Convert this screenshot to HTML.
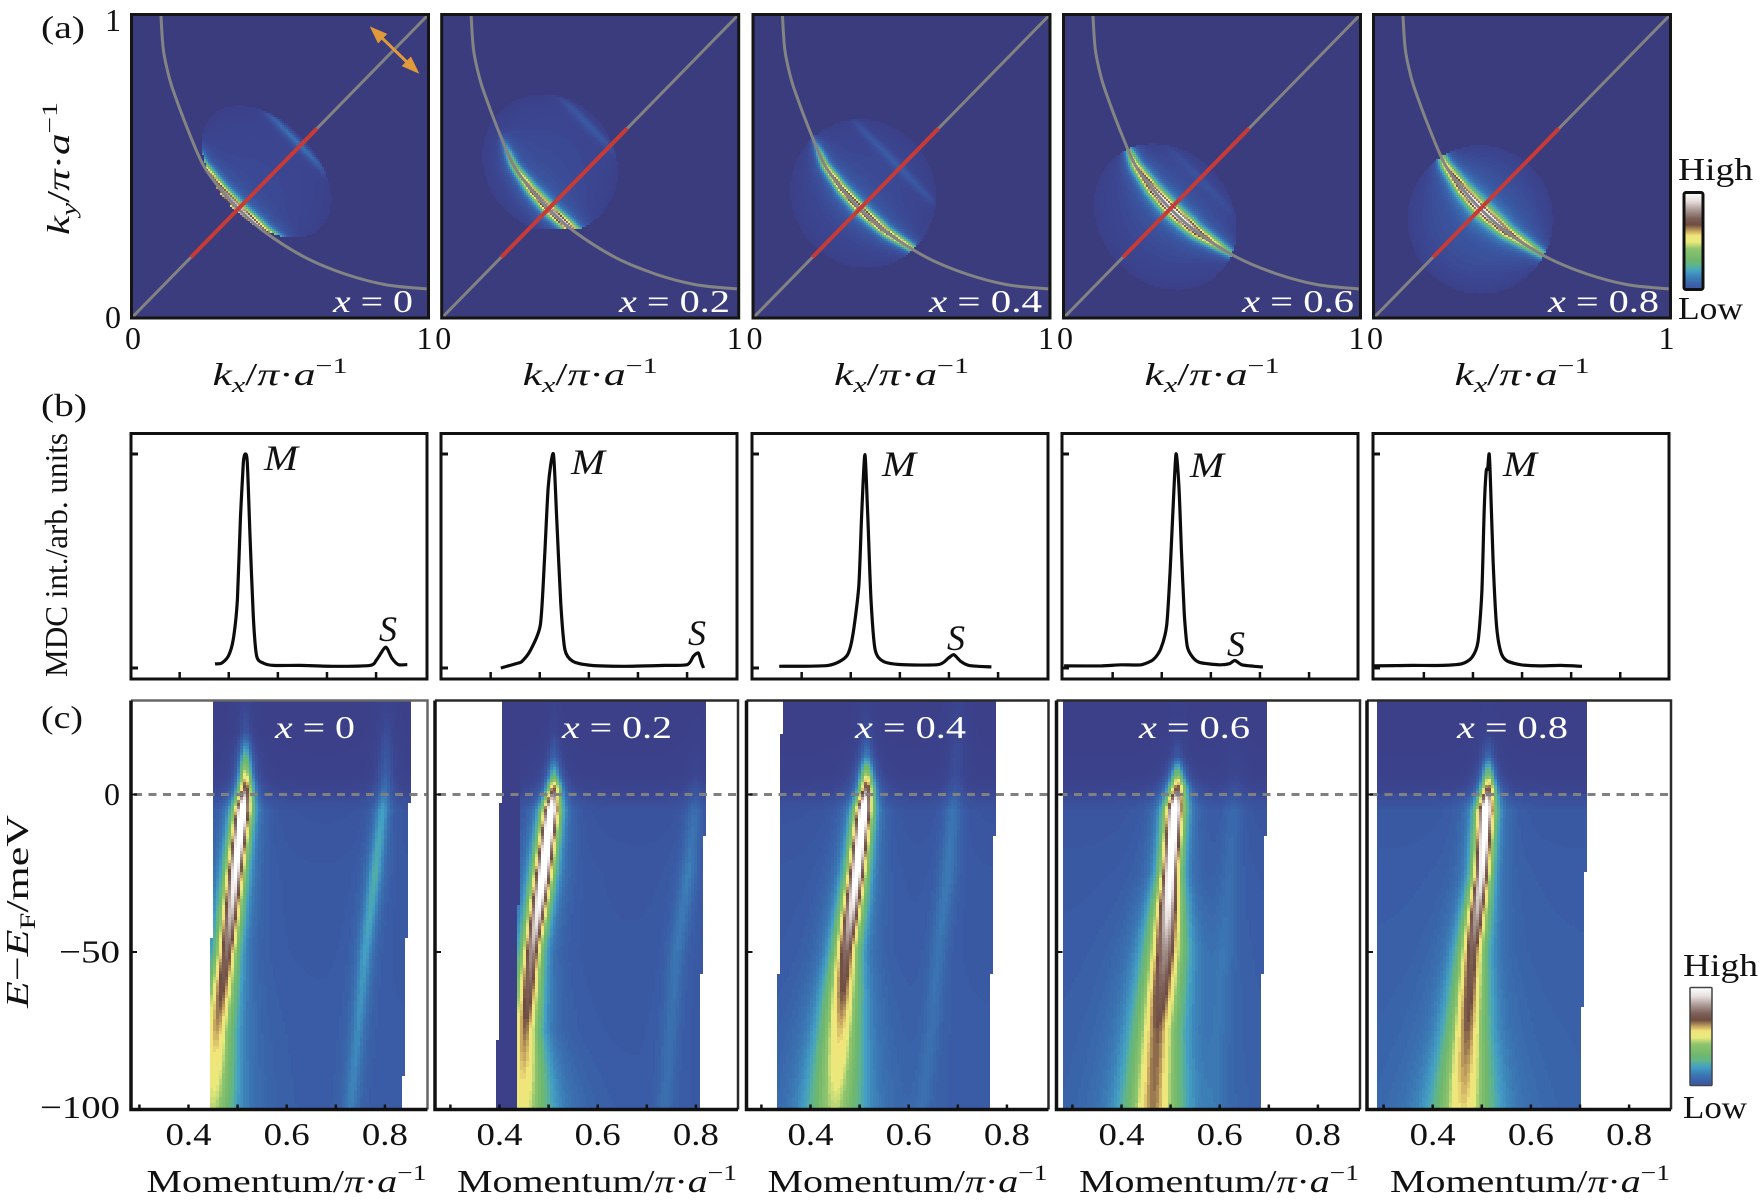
<!DOCTYPE html>
<html lang="en">
<head>
<meta charset="utf-8">
<title>ARPES Fermi surface and band dispersion panels</title>
<style>
html,body{margin:0;padding:0;background:#fff;}
svg{display:block;}
text{font-family:"Liberation Serif",serif;fill:#111;font-size:32px;}
</style>
</head>
<body>
<svg id="fig" xmlns="http://www.w3.org/2000/svg" width="1762" height="1200" viewBox="0 0 1762 1200">
<rect x="0" y="0" width="1762" height="1200" fill="#fff"/>
<g id="rowA"></g>
<g id="rowB"></g>
<g id="rowC"></g>
<g id="labels">
<text x="41" y="38" textLength="44" lengthAdjust="spacingAndGlyphs">(a)</text>
<text x="41" y="416" textLength="46" lengthAdjust="spacingAndGlyphs">(b)</text>
<text x="41" y="728" textLength="42" lengthAdjust="spacingAndGlyphs">(c)</text>
<text transform="translate(69,235) rotate(-90)" textLength="133" lengthAdjust="spacingAndGlyphs"><tspan font-style="italic">k</tspan><tspan font-style="italic" font-size="22" dy="7">y</tspan><tspan dy="-7">/</tspan><tspan font-style="italic">π</tspan><tspan>·</tspan><tspan font-style="italic">a</tspan><tspan font-size="22" dy="-12">−1</tspan></text>
<text transform="translate(67,677) rotate(-90)" textLength="244" lengthAdjust="spacingAndGlyphs">MDC int./arb. units</text>
<text transform="translate(28,1008) rotate(-90)" textLength="193" lengthAdjust="spacingAndGlyphs"><tspan font-style="italic">E</tspan><tspan>−</tspan><tspan font-style="italic">E</tspan><tspan font-size="22" dy="7">F</tspan><tspan dy="-7">/meV</tspan></text>
<text x="1678" y="180" textLength="75" lengthAdjust="spacingAndGlyphs">High</text>
<text x="1678" y="319" textLength="65" lengthAdjust="spacingAndGlyphs">Low</text>
<text x="1683" y="976" textLength="75" lengthAdjust="spacingAndGlyphs">High</text>
<text x="1683" y="1118" textLength="64" lengthAdjust="spacingAndGlyphs">Low</text>
</g>
</svg>
<script>
/* ---------- shared data ---------- */
const dopingLabels = ["0","0.2","0.4","0.6","0.8"];

/* (a) Fermi-surface maps */
const arcKx = [.099,.107,.125,.143,.19,.242,.30,.365,.449,.584,.719,.854,.994];
const arcKy = [.999,.885,.80,.742,.62,.503,.425,.355,.283,.2,.145,.11,.096];
const redStart = .2;
const redEnd = .625;
const aWinKx = [.455,.365,.371,.343,.36];
const aWinKy = [.482,.509,.41,.333,.324];
const aWinMajor = [.26,.24,.25,.26,.245];
const aWinMinor = [.165,.215,.24,.22,.245];
const aClipKy = [0,.292,0,0,0];
const aBgLevel = [.05,.06,.055,.06,.09];
const aT = [-.40,-.30,-.22,-.15,-.08,0,.08,.15,.22,.30,.40];
const aAmp = [
 [0,0,.38,.62,.8,.95,.88,.68,.38,0,0],
 [0,0,.3,.46,.68,.88,.88,.8,.38,0,0],
 [0,0,.38,.56,.72,.82,.74,.6,.46,0,0],
 [0,0,.42,.64,.84,.98,.9,.64,.4,.2,0],
 [0,0,.42,.6,.8,.95,.8,.56,.4,.3,0]
];
const aBandWidth = [.014,.0135,.0125,.015,.015];
const aGlowLevel = [.09,.09,.09,.11,.13];
const aShadowU = [.805,.80,.70,.65,.6];
const aShadowAmp = [.22,.12,.1,.06,0];
const aShadowW = [.012,.014,.012,.016,.02];

/* (b) momentum distribution curves */
const mdcK = [
 [.454,.4675,.481,.491,.4995,.506,.5117,.5157,.5198,.525,.532,.5388,.5524,.5728,.627,.695,.7697,.7833,.8016,.8138,.8274,.8457],
 [.4026,.4375,.4458,.4624,.483,.4915,.4993,.5098,.5165,.5248,.5331,.5497,.587,.6536,.7368,.7825,.795,.805,.8116,.8157],
 [.3362,.4359,.4734,.4858,.4983,.5041,.5108,.5166,.5232,.5316,.5482,.5856,.6604,.6812,.692,.7061,.7227,.7685],
 [.283,.36,.40,.44,.465,.48,.492,.499,.505,.511,.517,.522,.528,.534,.545,.56,.6,.62,.631,.645,.67,.688],
 [.28,.36,.42,.46,.48,.492,.5,.505,.509,.512,.515,.518,.523,.53,.538,.55,.58,.62,.66,.704]
];
const mdcI = [
 [.019,.023,.055,.132,.319,.709,.958,1,.958,.631,.241,.055,.023,.012,.012,.008,.012,.039,.097,.047,.016,.016],
 [0,.023,.031,.08,.2,.5,.85,1,.7,.3,.086,.031,.012,.008,.012,.016,.055,.07,.023,0],
 [.008,.012,.055,.148,.382,.709,.997,.709,.319,.086,.031,.016,.016,.047,.062,.031,.012,.005],
 [.01,.01,.015,.015,.04,.09,.2,.45,.75,1,.85,.55,.25,.1,.05,.025,.015,.02,.035,.015,.008,.005],
 [.01,.012,.012,.02,.05,.12,.35,.75,.92,.93,1,.85,.5,.2,.08,.035,.015,.01,.012,.008]
];
const mdcTicksK = [.382,.482,.582,.682,.782];
const mPeakLabelX = [281,588,899,1207,1520];
const mPeakLabelY = [470,474,476,477,476];
const sPeakLabelX = [388,697,956,1236];
const sPeakLabelY = [641,645,650,656];

/* (c) dispersion maps: band parameters read per energy row */
const cEnergies = [30,20,12,6,2,-5,-25,-50,-75,-100];
const cBg = [.01,.01,.015,.02,.04,.10,.115,.12,.125,.125];
const cBgOffset = [0,-.005,0,.005,.015];
const cMainK = [
 [.516,.516,.516,.516,.516,.510,.495,.478,.457,.45],
 [.511,.511,.511,.511,.511,.505,.489,.466,.452,.445],
 [.514,.514,.514,.514,.514,.508,.494,.472,.46,.449],
 [.514,.514,.514,.514,.514,.508,.499,.489,.472,.464],
 [.513,.513,.513,.513,.513,.508,.5,.48,.47,.462]
];
const cMainAmp = [
 [.03,.09,.33,.55,.72,1.05,.9,.66,.52,.38],
 [.01,.04,.13,.32,.68,1.05,1.0,.72,.56,.44],
 [.02,.06,.2,.5,.75,1.05,.95,.66,.5,.38],
 [.01,.02,.1,.42,.7,1.05,.95,.7,.56,.54],
 [.01,.02,.15,.42,.7,1.05,.85,.62,.55,.47]
];
const cMainWidth = [
 [.012,.012,.012,.012,.013,.014,.016,.0195,.03,.04],
 [.01,.01,.012,.012,.012,.014,.016,.018,.026,.05],
 [.012,.012,.013,.013,.013,.014,.016,.022,.035,.05],
 [.012,.012,.012,.013,.015,.015,.016,.03,.038,.047],
 [.012,.012,.012,.012,.013,.014,.015,.023,.033,.05]
];
const cShadowK = [
 [.803,.803,.802,.801,.80,.795,.78,.76,.745,.73],
 [.80,.80,.80,.80,.80,.797,.785,.761,.748,.737],
 [.70,.70,.697,.695,.694,.69,.68,.66,.647,.627],
 [.631,.631,.631,.631,.631,.628,.62,.607,.598,.59],
 [.6,.6,.6,.6,.6,.6,.6,.6,.6,.6]
];
const cShadowAmp = [
 [.02,.06,.1,.12,.14,.17,.19,.15,.11,.09],
 [0,.01,.02,.03,.05,.08,.1,.08,.06,.05],
 [.03,.05,.06,.06,.07,.09,.09,.07,.05,.04],
 [0,.01,.02,.03,.04,.05,.05,.05,.04,.03],
 [0,0,0,0,0,0,0,0,0,0]
];
const cShadowW = [.014,.016,.016,.02,.02];
const cWinLeft = [[.452,.442],[.404,.394],[.341,.331],[.283,.283],[.284,.284]];
const cWinRight = [[.855,.835],[.822,.805],[.78,.761],[.698,.68],[.717,.70]];
const cMask = [[.452,.442],[.445,.432],[0,0],[0,0],[0,0]];
const cXTickValues = [.3,.4,.5,.6,.7,.8];
const cXTickLabels = ["0.4","0.6","0.8"];
const cXTickLabelValues = [.4,.6,.8];
const cYTicks = [0,-50,-100];
const cYTickLabels = ["0","−50","−100"];
const cYTickLengths = [16,61,80];

/* colour map */
const cmapV = [0,.05,.13,.2,.27,.33,.38,.48,.54,.6,.64,.7,.76,.84,.92,1];
const cmapR = [60,59,58,59,67,98,111,143,233,240,200,111,125,173,230,255];
const cmapG = [63,69,92,120,160,181,183,196,233,228,168,77,96,154,223,255];
const cmapB = [135,144,166,180,196,138,108,110,124,122,96,66,88,150,221,255];

/* label placement */
const aDopingX = [333,619,929,1242,1548];
const aDopingLen = [80,111,113,112,111];
const cDopingX = [275,562,855,1139,1457];
const cDopingLen = [80,110,111,111,111];

/* ---------- geometry and axis functions ---------- */
const aX0 = [131.5,441.7,753,1063.5,1373.5];
const aSize = 297;
const aTop = 14.5, aBottom = 318;
const bX0 = [131,441,752,1062,1373];
const bX1 = [427,737,1048,1358,1669];
const bTop = 433.5, bBottom = 679;
const cX0 = [131,435,746.5,1056.5,1367];
const cX1 = [427.5,738,1048.5,1360,1671];
const cTop = 700.5, cBottom = 1109.5;
const cX04 = [188.5,499.5,810.5,1121.5,1432.7];
const xA = (p,k) => aX0[p] + k*aSize;
const yA = k => aBottom - k*(aBottom-aTop);
const kxOfA = (p,x) => (x-aX0[p])/aSize;
const kyOfA = y => (aBottom-y)/(aBottom-aTop);
const xC = (p,k) => cX04[p] + (k-.4)*491;
const kOfC = (p,x) => .4 + (x-cX04[p])/491;
const yC = E => 794.5 - E*3.15;
const eOfC = y => (794.5-y)/3.15;
const yB = v => 668 - v*214;

/* ---------- helpers ---------- */
const NS = "http://www.w3.org/2000/svg";
function mk(tag, attrs, parent){
  const el = document.createElementNS(NS, tag);
  for(const k in attrs) el.setAttribute(k, attrs[k]);
  parent.appendChild(el);
  return el;
}
function interp(xs, ys, x){
  if(xs[0] > xs[xs.length-1]){
    if(x >= xs[0]) return ys[0];
    if(x <= xs[xs.length-1]) return ys[ys.length-1];
    for(let i=1;i<xs.length;i++) if(x >= xs[i]){
      const t=(x-xs[i-1])/(xs[i]-xs[i-1]);
      return ys[i-1]+t*(ys[i]-ys[i-1]);
    }
  } else {
    if(x <= xs[0]) return ys[0];
    if(x >= xs[xs.length-1]) return ys[ys.length-1];
    for(let i=1;i<xs.length;i++) if(x <= xs[i]){
      const t=(x-xs[i-1])/(xs[i]-xs[i-1]);
      return ys[i-1]+t*(ys[i]-ys[i-1]);
    }
  }
  return ys[ys.length-1];
}
function profile(d, w){
  const r = d/(1.3*w);
  return Math.pow(1+r*r, -1.5);
}
function colour(v){
  v = Math.max(0, Math.min(1, Math.round(v*100)/100));
  return "rgb("+Math.round(interp(cmapV,cmapR,v))+","+Math.round(interp(cmapV,cmapG,v))+","+Math.round(interp(cmapV,cmapB,v))+")";
}
function distToArc(kx, ky){
  let best = 9;
  for(let i=1;i<arcKx.length;i++){
    const ax=arcKx[i-1], ay=arcKy[i-1], dx=arcKx[i]-ax, dy=arcKy[i]-ay;
    let t=((kx-ax)*dx+(ky-ay)*dy)/(dx*dx+dy*dy);
    t=Math.max(0,Math.min(1,t));
    const ex=kx-ax-t*dx, ey=ky-ay-t*dy, d=Math.sqrt(ex*ex+ey*ey);
    if(d<best) best=d;
  }
  return best;
}
function smoothPath(xs, ys, f){
  let d = "M"+xs[0].toFixed(1)+" "+ys[0].toFixed(1);
  for(let i=0;i<xs.length-1;i++){
    const x0=xs[Math.max(0,i-1)], y0=ys[Math.max(0,i-1)];
    const x3=xs[Math.min(xs.length-1,i+2)], y3=ys[Math.min(xs.length-1,i+2)];
    const c1x=xs[i]+(xs[i+1]-x0)*f, c1y=ys[i]+(ys[i+1]-y0)*f;
    const c2x=xs[i+1]-(x3-xs[i])*f, c2y=ys[i+1]-(y3-ys[i])*f;
    d+="C"+c1x.toFixed(1)+" "+c1y.toFixed(1)+" "+c2x.toFixed(1)+" "+c2y.toFixed(1)+" "+xs[i+1].toFixed(1)+" "+ys[i+1].toFixed(1);
  }
  return d;
}
const svg = document.getElementById("fig");
const rowA = document.getElementById("rowA");
const rowB = document.getElementById("rowB");
const rowC = document.getElementById("rowC");

/* ---------- row (a) ---------- */
dopingLabels.forEach((lab,p) => {
  const g = mk("g",{},rowA);
  
  

  const bg = mk("rect",{x:aX0[p],y:aTop,width:aSize,height:aBottom-aTop,fill:"#3b3c7d"},g);
  
  

  const heat = mk("g",{"shape-rendering":"crispEdges"},g);
  
  
  const step = 2;
  for(let y=Math.floor(aTop)+1; y<aBottom-1; y+=step){
    let runStart=null, runCol=null;
    const flush = x => {
      if(runStart===null) return;
      const c = mk("rect",{x:runStart,y:y,width:x-runStart,height:step,fill:runCol},heat);
      
      
      runStart=null; runCol=null;
    };
    for(let x=Math.floor(aX0[p])+1; x<aX0[p]+aSize-1; x+=step){
      const kx=kxOfA(p,x+1), ky=kyOfA(y+1);
      const t=(kx-ky)/Math.SQRT2, u=(kx+ky)/Math.SQRT2;
      const cu=(aWinKx[p]+aWinKy[p])/Math.SQRT2, ct=(aWinKx[p]-aWinKy[p])/Math.SQRT2;
      const r2=Math.pow((t-ct)/aWinMajor[p],2)+Math.pow((u-cu)/aWinMinor[p],2);
      if(r2>1 || ky<aClipKy[p]){ flush(x); continue; }
      const fade=Math.pow(1-r2,.6);
      const d=distToArc(kx,ky);
      const amp=interp(aT,aAmp[p],t);
      let v=aBgLevel[p]*fade + amp*profile(d,aBandWidth[p]) + aGlowLevel[p]*amp*profile(d,.05);
      v+=aShadowAmp[p]*Math.pow(fade,.4)*profile(u-aShadowU[p],aShadowW[p]);
      const col=colour(v);
      if(col!==runCol){ flush(x); runStart=x; runCol=col; }
    }
    flush(Math.floor(aX0[p])+1+Math.ceil((aSize-2)/step)*step);
  }

  const diag = mk("line",{x1:xA(p,0),y1:yA(0),x2:xA(p,1),y2:yA(1),stroke:"#828282","stroke-width":3},g);
  
  

  const arc = mk("path",{d:smoothPath(arcKx.map(k=>xA(p,k)),arcKy.map(k=>yA(k)),1/6),fill:"none",stroke:"#848484","stroke-width":3,"stroke-linejoin":"round"},g);
  
  

  const red = mk("line",{x1:xA(p,redStart),y1:yA(redStart),x2:xA(p,redEnd),y2:yA(redEnd),stroke:"#c63b36","stroke-width":4},g);
  
  

  const frame = mk("rect",{x:aX0[p],y:aTop,width:aSize,height:aBottom-aTop,fill:"none",stroke:"#151515","stroke-width":3},g);
  
  

  const xt = mk("text",{x:aDopingX[p],y:312,style:"fill:#fff",textLength:aDopingLen[p],lengthAdjust:"spacingAndGlyphs"},g);
  xt.innerHTML='<tspan font-style="italic">x</tspan> = '+lab;
  
  

  const t0 = mk("text",{x:aX0[p]+1.5,y:349,"text-anchor":"middle"},g);
  t0.textContent="0";
  
  

  const t1 = mk("text",{x:aX0[p]+293,y:349,"text-anchor":"middle"},g);
  t1.textContent="1";
  
  

  const xtitle = mk("text",{x:aX0[p]+81,y:385,textLength:135,lengthAdjust:"spacingAndGlyphs"},g);
  xtitle.innerHTML='<tspan font-style="italic">k</tspan><tspan font-style="italic" font-size="22" dy="7">x</tspan><tspan dy="-7">/</tspan><tspan font-style="italic">π</tspan><tspan>·</tspan><tspan font-style="italic">a</tspan><tspan font-size="22" dy="-12">−1</tspan>';
  
  
});

const y1 = mk("text",{x:113,y:31,"text-anchor":"middle"},rowA);
y1.textContent="1";


const y0 = mk("text",{x:113,y:328,"text-anchor":"middle"},rowA);
y0.textContent="0";



const arrow = mk("g",{fill:"#e09a3a",stroke:"#e09a3a"},rowA);


mk("line",{x1:378,y1:34,x2:411,y2:66,"stroke-width":3},arrow);
mk("polygon",{points:"370.7,27.3 386.4,34 378.2,42.6","stroke-width":1},arrow);
mk("polygon",{points:"418.3,72.7 410.8,57.4 402.6,66","stroke-width":1},arrow);

/* ---------- row (b) ---------- */
dopingLabels.forEach((lab,p) => {
  const g = mk("g",{},rowB);
  
  

  const frame = mk("rect",{x:bX0[p],y:bTop,width:bX1[p]-bX0[p],height:bBottom-bTop,fill:"#fff",stroke:"#111","stroke-width":3},g);
  
  

  [0,1].forEach(v => {
    const t = mk("line",{x1:bX0[p],x2:bX0[p]+7,y1:yB(v),y2:yB(v),stroke:"#111","stroke-width":3},g);
    
    
  });
  mdcTicksK.forEach(k => {
    const t = mk("line",{x1:xC(p,k),x2:xC(p,k),y1:bBottom,y2:bBottom-7,stroke:"#111","stroke-width":2.5},g);
    
    
  });

  const curve = mk("path",{d:smoothPath(mdcK[p].map(k=>xC(p,k)),mdcI[p].map(v=>yB(v)),.12),fill:"none",stroke:"#0c0c0c","stroke-width":3.2,"stroke-linejoin":"round"},g);
  
  

  const m = mk("text",{x:mPeakLabelX[p]-17,y:mPeakLabelY[p],"font-style":"italic",style:"font-size:36px",textLength:34,lengthAdjust:"spacingAndGlyphs"},g);
  m.textContent="M";
  
  

  if(p < sPeakLabelX.length){
    const s = mk("text",{x:sPeakLabelX[p],y:sPeakLabelY[p],"text-anchor":"middle","font-style":"italic",style:"font-size:36px"},g);
    s.textContent="S";
    
    
  }
});

/* ---------- row (c) ---------- */
dopingLabels.forEach((lab,p) => {
  const g = mk("g",{},rowC);
  
  

  const heat = mk("g",{"shape-rendering":"crispEdges"},g);
  
  
  const step = 3;
  const startX = Math.floor(cX0[p])+1;
  for(let y=701; y<1109; y+=step){
    const E=eOfC(y+step/2);
    const tt=Math.floor(Math.min(.999,(30-E)/130)*12)/12;
    const wl=cWinLeft[p][0]+tt*(cWinLeft[p][1]-cWinLeft[p][0]);
    const wr=cWinRight[p][0]+tt*(cWinRight[p][1]-cWinRight[p][0]);
    const ml=cMask[p][0]+tt*(cMask[p][1]-cMask[p][0]);
    const k0=interp(cEnergies,cMainK[p],E), amp=interp(cEnergies,cMainAmp[p],E), wid=interp(cEnergies,cMainWidth[p],E);
    const s0=interp(cEnergies,cShadowK[p],E), sa=interp(cEnergies,cShadowAmp[p],E);
    const b=interp(cEnergies,cBg,E)+(E<0?cBgOffset[p]:0);
    let runStart=null, runCol=null;
    const flush = x => {
      if(runStart===null) return;
      const c = mk("rect",{x:runStart,y:y,width:x-runStart,height:step,fill:runCol},heat);
      
      
      runStart=null; runCol=null;
    };
    let x=startX;
    for(; x<cX1[p]-1; x+=step){
      const k=kOfC(p,x+step/2);
      if(k<wl || k>wr){ flush(x); continue; }
      let v;
      if(cMask[p][0]>0 && k<ml){
        v=.005;
      } else {
        v=b+amp*profile(k-k0,wid)+sa*profile(k-s0,cShadowW[p]);
      }
      const col=colour(v);
      if(col!==runCol){ flush(x); runStart=x; runCol=col; }
    }
    flush(x);
  }

  const zero = mk("line",{x1:cX0[p]+3,x2:cX1[p],y1:yC(0),y2:yC(0),stroke:"#808080","stroke-width":3,"stroke-dasharray":"8 6.5"},g);
  
  

  const frameTR = mk("path",{d:"M"+cX0[p]+" "+cTop+"H"+cX1[p]+"V"+cBottom,fill:"none",stroke:p===0?"#666":"#2a2a2a","stroke-width":2.5},g);
  
  
  const frameLB = mk("path",{d:"M"+cX0[p]+" "+cTop+"V"+cBottom+"H"+cX1[p],fill:"none",stroke:"#111","stroke-width":3.5},g);
  
  

  cYTicks.slice(0,2).forEach(E => {
    const t = mk("line",{x1:cX0[p],x2:cX0[p]+6,y1:yC(E),y2:yC(E),stroke:"#111","stroke-width":2},g);
    
    
  });
  cXTickValues.forEach(k => {
    const t = mk("line",{x1:xC(p,k),x2:xC(p,k),y1:cBottom,y2:cBottom-5,stroke:"#111","stroke-width":2.5},g);
    
    
  });
  cXTickLabels.forEach((s,i) => {
    const t = mk("text",{x:xC(p,cXTickLabelValues[i])-23,y:1145,textLength:46,lengthAdjust:"spacingAndGlyphs"},g);
    t.textContent=s;
    
    
  });

  const title = mk("text",{x:cX1[p]-281,y:1192,textLength:280,lengthAdjust:"spacingAndGlyphs"},g);
  title.innerHTML='Momentum/<tspan font-style="italic">π</tspan>·<tspan font-style="italic">a</tspan><tspan font-size="22" dy="-12">−1</tspan>';
  
  

  const xt = mk("text",{x:cDopingX[p],y:738,style:"fill:#fff",textLength:cDopingLen[p],lengthAdjust:"spacingAndGlyphs"},g);
  xt.innerHTML='<tspan font-style="italic">x</tspan> = '+lab;
  
  
});

cYTicks.forEach((E,i) => {
  const baselineOffset=[10.5,10.5,8.5][i];
  const t = mk("text",{x:120-cYTickLengths[i],y:yC(E)+baselineOffset,textLength:cYTickLengths[i],lengthAdjust:"spacingAndGlyphs"},rowC);
  t.textContent=cYTickLabels[i];
  
  
});

/* ---------- colour bars ---------- */
const defs = mk("defs",{},svg);
const grad = mk("linearGradient",{id:"cbar",x1:0,y1:1,x2:0,y2:0},defs);
cmapV.forEach((v,i) => {
  if(v < .1) return;
  mk("stop",{offset:((v-.1)/.9).toFixed(3),"stop-color":"rgb("+cmapR[i]+","+cmapG[i]+","+cmapB[i]+")"},grad);
});
const barTop = mk("rect",{x:1684,y:192.5,width:19,height:97,rx:2,fill:"url(#cbar)",stroke:"#111","stroke-width":3},svg);


const barBottom = mk("rect",{x:1690,y:987.5,width:22,height:98,rx:1,fill:"url(#cbar)",stroke:"#444","stroke-width":1.5},svg);


</script>
</body>
</html>
